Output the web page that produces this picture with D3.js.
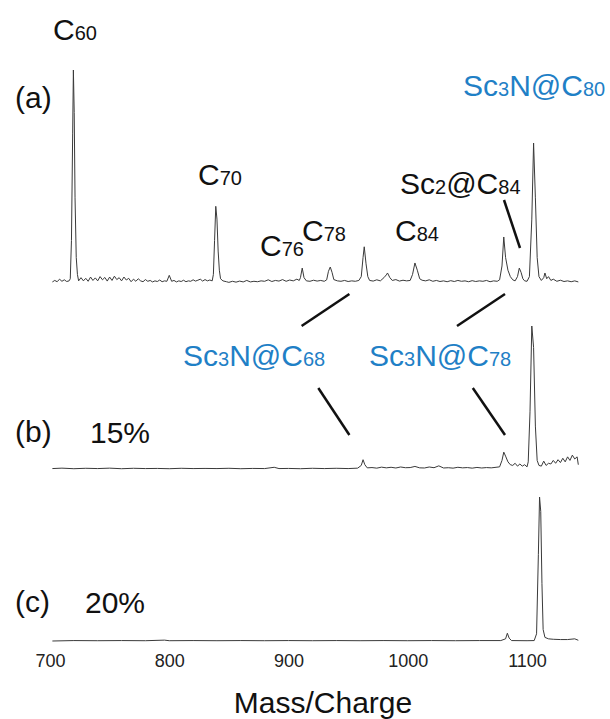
<!DOCTYPE html>
<html>
<head>
<meta charset="utf-8">
<script src="https://cdn.jsdelivr.net/npm/d3@7"></script>
<style>
body { margin:0; background:#fff; }
text { font-family: "Liberation Sans", Arial, sans-serif; }
</style>
</head>
<body>
<script>
// spectra: [mass, intensity (% of tallest peak in panel)]
var specA = [[702,0.5],[704,1.2],[706,0.6],[708,1.8],[710,0.8],[712,1.5],[714,0.7],[716,1.0],[717,2.0],
  [718,20],[719,70],[719.6,100],[720.3,80],[721,40],[722,12],[723,4],[724,1.0],[726,2.5],[728,1.0],
  [730,2.2],[732,0.8],[734,2.8],[736,1.2],[738,2.4],[740,1.0],[742,3.0],[744,1.5],[746,2.6],[748,0.9],
  [750,2.8],[752,1.2],[754,3.2],[756,1.6],[758,2.5],[760,1.0],[762,2.8],[764,1.4],[766,2.2],[768,0.6],
  [770,1.8],[772,0.8],[774,2.0],[776,1.0],[778,0.6],[780,1.6],[782,0.8],[784,1.2],[786,0.5],[788,1.0],
  [790,0.7],[792,1.4],[794,0.6],[796,1.0],[798,0.8],[800,3.6],[802,0.8],[804,1.2],[806,0.5],[808,1.0],
  [810,0.7],[812,1.3],[814,0.6],[816,1.0],[818,0.8],[820,1.5],[822,0.9],[824,1.3],[826,1.8],[828,0.9],
  [830,1.6],[832,1.0],[834,1.4],[836,1.0],[837,4],[838,20],[839,36],[840,30],[841,15],[842,6],[843,2],
  [845,1.0],[848,0.6],[850,0.3],[853,0.8],[856,0.4],[859,0.9],[862,0.5],[865,1.2],[868,0.5],[871,0.8],
  [874,0.6],[877,1.0],[880,0.8],[883,1.5],[886,0.7],[889,1.2],[892,0.9],[895,1.6],[898,0.8],[901,1.4],
  [904,1.0],[907,1.8],[909,1.2],[910,2.5],[911.5,7.0],[913,2.5],[915,1.0],[918,0.8],[921,1.3],[924,0.9],
  [927,1.2],[930,0.8],[932,1.5],[933.5,5.5],[935,7.5],[936.5,5],[938,1.6],[941,1.0],[944,0.8],[947,1.2],
  [950,0.7],[953,1.0],[956,0.8],[959,1.2],[961,3],[962.5,12],[963.5,17],[965,9],[966.5,3],[968,1.2],
  [971,0.9],[974,1.5],[977,1.0],[980,2.5],[982,3.8],[983,4.7],[985,2.5],[987,1.2],[990,1.6],[993,0.9],
  [996,1.3],[999,1.0],[1002,1.2],[1004,4],[1006,9.4],[1008,6],[1010,2.0],[1012,1.3],[1015,1.0],[1018,1.5],
  [1021,0.8],[1024,1.2],[1027,0.7],[1030,1.0],[1033,0.6],[1036,1.1],[1039,0.7],[1042,1.2],[1045,0.8],
  [1048,1.0],[1051,0.6],[1054,1.1],[1057,0.7],[1060,1.0],[1063,0.8],[1066,1.2],[1069,0.6],[1072,1.0],
  [1075,0.8],[1077,1.5],[1079,8],[1080.5,21.6],[1082,12],[1084,6],[1086,3],[1088,1.5],[1090,1.0],[1092,3],
  [1093.5,7],[1095,5],[1096.5,2],[1098,1.0],[1100,0.8],[1102,3],[1104,30],[1105.5,65.7],[1107,40],
  [1108.5,12],[1110,3],[1112,1.2],[1114,2.5],[1115,4.7],[1116.5,2],[1118,3],[1120,1.2],[1122,1.8],
  [1125,0.8],[1128,1.3],[1131,0.7],[1134,1.0],[1137,0.6],[1140,1.0],[1143,0.5]];

var specB = [[702,0.3],[710,0.6],[720,0.2],[730,0.5],[740,0.3],[750,0.6],[760,0.2],[770,0.5],[780,0.3],
  [790,0.4],[800,0.2],[810,0.5],[820,0.3],[830,0.4],[840,0.3],[850,0.5],[860,0.2],[870,0.4],[880,0.3],
  [888,1.2],[892,0.3],[900,0.4],[910,0.2],[920,0.5],[930,0.3],[940,0.5],[950,0.3],[958,0.6],[961,2.5],
  [962.5,6.5],[964,3],[966,0.8],[970,1.0],[974,0.6],[978,1.3],[982,0.8],[986,1.2],[990,0.7],[994,1.4],
  [998,0.9],[1002,1.0],[1006,1.8],[1010,0.8],[1014,0.7],[1018,1.4],[1022,0.9],[1026,2.2],[1030,0.7],
  [1034,0.9],[1038,0.6],[1042,1.2],[1046,0.8],[1050,1.0],[1054,0.6],[1058,1.1],[1062,0.7],[1066,1.0],
  [1070,0.8],[1074,1.2],[1077,1.5],[1079,6],[1080.5,11.8],[1082,9],[1084,5],[1086,3],[1088,2.5],[1090,4],
  [1092,2.0],[1094,3.5],[1096,2],[1098,3.0],[1100,1.5],[1101,5],[1102.5,40],[1104,100],[1105.5,85],
  [1107,30],[1108.5,6],[1110,2.5],[1112,2.0],[1114,5.5],[1116,2.5],[1118,4.0],[1120,3.5],[1122,6.0],
  [1124,4.0],[1126,6.5],[1128,4.5],[1130,7.5],[1132,5],[1134,8.5],[1136,6],[1138,9.7],[1140,7],
  [1142,8.5],[1143,3]];

var specC = [[702,0],[720,0.3],[740,0.2],[760,0.3],[780,0.2],[796,0.6],[800,0.2],[820,0.3],[840,0.2],
  [860,0.3],[880,0.2],[900,0.3],[920,0.2],[940,0.3],[960,0.2],[980,0.3],[1000,0.2],[1020,0.3],[1040,0.2],
  [1060,0.3],[1078,0.3],[1082,1.5],[1083.5,5.4],[1085,2.0],[1087,0.3],[1100,0.2],[1106,0.3],[1108,5],
  [1109.5,60],[1110.5,100],[1111.5,90],[1112.5,40],[1113.5,8],[1115,2.5],[1118,1.5],[1122,1.2],
  [1128,1.0],[1134,1.0],[1140,1.5],[1143,0.5]];

var xTicks = [700, 800, 900, 1000, 1100];
var blue = "#1f80c6";

var width = 610, height = 719;
var svg = d3.select("body").append("svg")
  .attr("width", width)
  .attr("height", height);

var x = d3.scaleLinear().domain([700, 1145]).range([50, 580.7]);

var panels = [
  {data: specA, base: 283, top: 70},
  {data: specB, base: 469, top: 326},
  {data: specC, base: 641, top: 497}
];

panels.forEach(function(p) {
  var y = d3.scaleLinear().domain([0, 100]).range([p.base, p.top]);
  var line = d3.line()
    .x(function(d) { return x(d[0]); })
    .y(function(d) { return y(d[1]); });
  svg.append("path")
    .datum(p.data)
    .attr("d", line)
    .attr("fill", "none")
    .attr("stroke", "#3a3a3a")
    .attr("stroke-width", 1);
});

// mass axis under the last panel
var xAxis = svg.append("g")
  .attr("transform", "translate(0,650)")
  .call(d3.axisBottom(x).tickValues(xTicks).tickFormat(d3.format("d")).tickSize(0).tickPadding(0));
xAxis.select(".domain").remove();
xAxis.selectAll("text")
  .attr("dy", "0.71em")
  .attr("y", 4)
  .attr("font-size", "18px")
  .attr("font-family", "Liberation Sans, Arial, sans-serif")
  .attr("fill", "#222");

svg.append("text")
  .attr("x", 323)
  .attr("y", 713)
  .attr("text-anchor", "middle")
  .attr("font-size", "30px")
  .attr("fill", "#111")
  .text("Mass/Charge");

// labels: parts are [text, small?]
function label(parts, px, py, color) {
  var t = svg.append("text")
    .attr("x", px)
    .attr("y", py)
    .attr("fill", color || "#111")
    .attr("font-size", "30px");
  parts.forEach(function(s) {
    t.append("tspan")
      .attr("font-size", s[1] ? "20px" : "30px")
      .text(s[0]);
  });
}

label([["(a)"]], 15, 108);
label([["(b)"]], 15, 442);
label([["(c)"]], 15, 612);
label([["15%"]], 90, 443);
label([["20%"]], 85, 613);

label([["C"], ["60", 1]], 53, 40);
label([["C"], ["70", 1]], 198, 185);
label([["C"], ["76", 1]], 260, 256);
label([["C"], ["78", 1]], 302, 241);
label([["C"], ["84", 1]], 395, 241);
label([["Sc"], ["2", 1], ["@C"], ["84", 1]], 400, 194);
label([["Sc"], ["3", 1], ["N@C"], ["80", 1]], 463, 96, blue);
label([["Sc"], ["3", 1], ["N@C"], ["68", 1]], 183, 366, blue);
label([["Sc"], ["3", 1], ["N@C"], ["78", 1]], 369, 366, blue);

// leader lines
var leaders = [
  [504, 200, 520, 248],
  [349.4, 294, 301.6, 326],
  [505, 294, 457, 326],
  [318.3, 388, 349.4, 435],
  [472.8, 388, 505, 435]
];
svg.selectAll(".leader")
  .data(leaders)
  .enter().append("line")
  .attr("class", "leader")
  .attr("x1", function(d) { return d[0]; })
  .attr("y1", function(d) { return d[1]; })
  .attr("x2", function(d) { return d[2]; })
  .attr("y2", function(d) { return d[3]; })
  .attr("stroke", "#111")
  .attr("stroke-width", 2.5);
</script>
</body>
</html>
